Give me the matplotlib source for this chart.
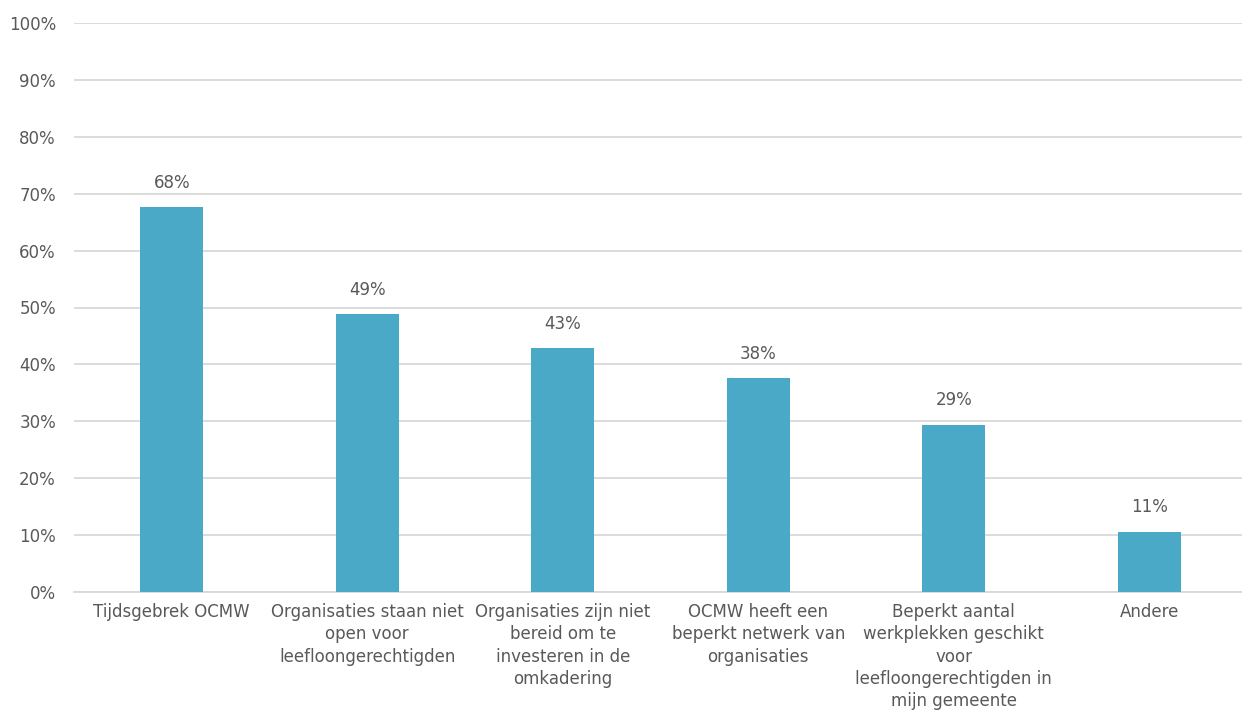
import matplotlib.pyplot as plt
from matplotlib.ticker import PercentFormatter

categories = [
    "Tijdsgebrek OCMW",
    "Organisaties staan niet\nopen voor\nleefloongerechtigden",
    "Organisaties zijn niet\nbereid om te\ninvesteren in de\nomkadering",
    "OCMW heeft een\nbeperkt netwerk van\norganisaties",
    "Beperkt aantal\nwerkplekken geschikt\nvoor\nleefloongerechtigden in\nmijn gemeente",
    "Andere",
]
values = [67.6, 48.8, 42.9, 37.6, 29.4, 10.6]
labels = ["68%", "49%", "43%", "38%", "29%", "11%"]

bar_color = "#4BA9C8"
text_color = "#595959"
grid_color = "#D9D9D9"

plt.rcParams['font.family'] = ['DejaVu Sans']

fig = plt.figure(figsize=(12.42, 7.13), dpi=100)
ax = fig.add_axes([74 / 1242, 1 - 592 / 713, 1173 / 1242, 569 / 713])

x = range(len(categories))
bars = ax.bar(x, values, width=0.32, color=bar_color, zorder=3)

for b, lab in zip(bars, labels):
    ax.text(b.get_x() + b.get_width() / 2, b.get_height() + 2.7, lab,
            ha='center', va='bottom', fontsize=12, color=text_color)

ax.set_xlim(-0.5, len(categories) - 0.5)
ax.set_ylim(0, 100)
ax.set_yticks(range(0, 101, 10))
ax.yaxis.set_major_formatter(PercentFormatter(decimals=0))
ax.set_xticks(list(x))
ax.set_xticklabels(categories, linespacing=1.3)

ax.tick_params(axis='both', length=0, labelsize=12, colors=text_color)
ax.tick_params(axis='y', pad=13)
ax.tick_params(axis='x', pad=8)

ax.grid(axis='y', color=grid_color, linewidth=1.3, zorder=0)
for s in ['top', 'right', 'left']:
    ax.spines[s].set_visible(False)
ax.spines['bottom'].set_color(grid_color)
ax.spines['bottom'].set_linewidth(1.3)

plt.savefig("out.png", dpi=100)
